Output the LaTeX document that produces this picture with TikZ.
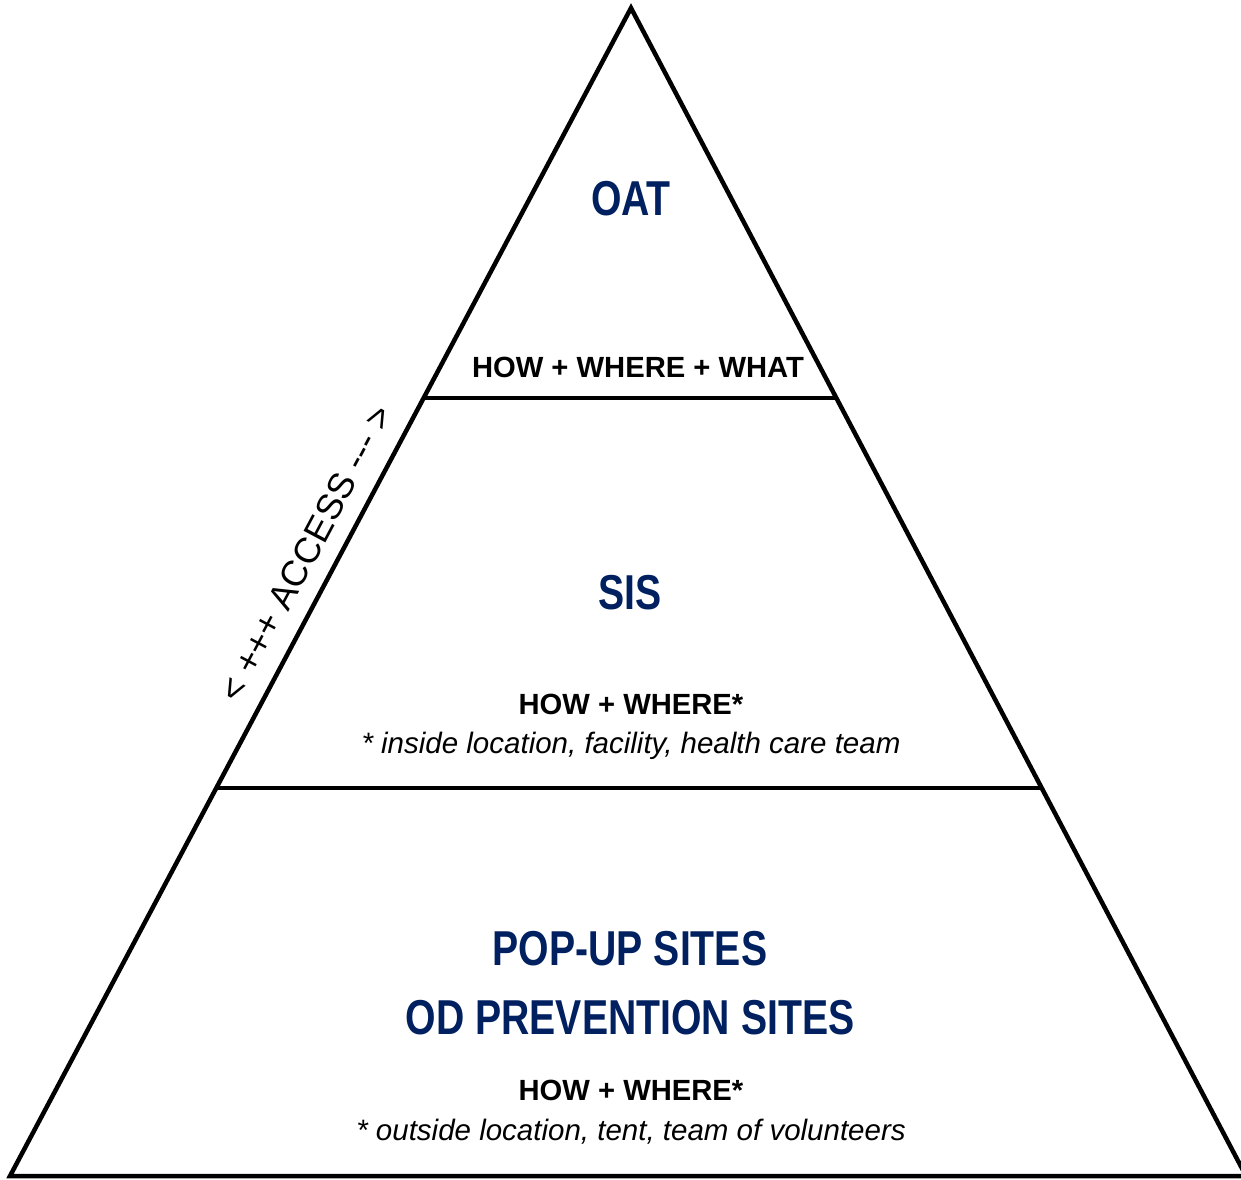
\documentclass[tikz,border=0pt]{standalone}
\usepackage{fontspec}
\setmainfont{Liberation Sans}
\usetikzlibrary{calc}
\definecolor{navy}{RGB}{0,32,96}
\tikzset{
  edge/.style={line width=4.5pt, line join=miter},
  title/.style={anchor=base, text=navy, font=\bfseries\fontsize{49}{56}\selectfont, inner sep=0pt},
  howtext/.style={anchor=base, font=\bfseries\fontsize{29.2}{34}\selectfont, inner sep=0pt},
  note/.style={anchor=base, font=\itshape\fontsize{29.5}{34}\selectfont, inner sep=0pt},
  accesstext/.style={font=\fontsize{36}{42}\selectfont, rotate=62, inner sep=0pt}
}
\newcommand{\narrowtxt}[1]{\scalebox{0.8}[1]{#1}}
\begin{document}
\begin{tikzpicture}[x=1pt,y=-1pt]
\useasboundingbox (0,0) rectangle (1241,1179);
\coordinate (apex) at (631,8);
\coordinate (bl) at (10,1176);
\coordinate (br) at (1246,1176);
\coordinate (l1) at ($(apex)!0.3339!(bl)$);
\coordinate (r1) at ($(apex)!0.3339!(br)$);
\coordinate (l2) at ($(apex)!0.6678!(bl)$);
\coordinate (r2) at ($(apex)!0.6678!(br)$);
\draw[edge] (apex) -- (br) -- (bl) -- cycle;
\draw[edge] (l1) -- (r1);
\draw[edge] (l2) -- (r2);

\node[title] (oat) at (631,215) {\narrowtxt{OAT}};
\node[howtext] (how1) at (638,377) {HOW + WHERE + WHAT};

\node[title] (sis) at (630,609) {\narrowtxt{SIS}};
\node[howtext] (how2) at (631,714) {HOW + WHERE*};
\node[note] (note2) at (631,753) {* inside location, facility, health care team};

\node[title] (pop) at (630,965) {\narrowtxt{POP-UP SITES}};
\node[title] (odp) at (630,1034) {\narrowtxt{OD PREVENTION SITES}};
\node[howtext] (how3) at (631,1100) {HOW + WHERE*};
\node[note] (note3) at (631,1140) {* outside location, tent, team of volunteers};

\node[accesstext] (access) at (306,553) {< +++ ACCESS -{}-{}- >};
\end{tikzpicture}
\end{document}
